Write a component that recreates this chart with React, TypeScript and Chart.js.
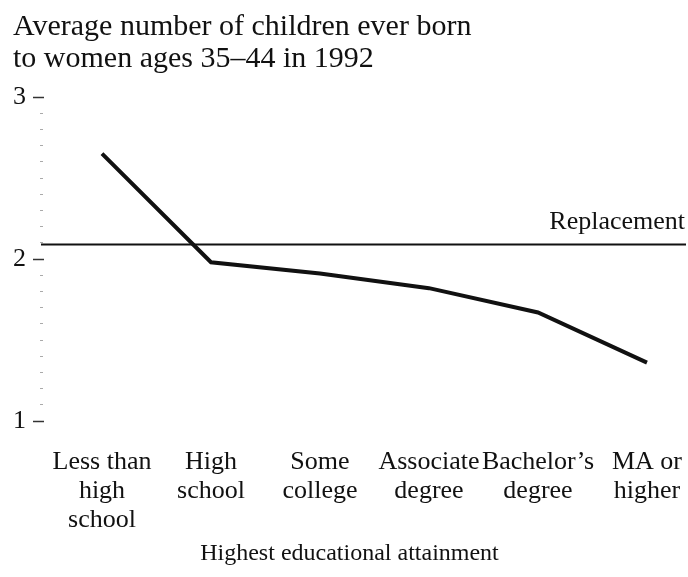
import React, { useEffect, useRef } from 'react';
import { Chart, registerables } from 'chart.js';

Chart.register(...registerables);

const CATEGORIES: string[][] = [
  ['Less than', 'high', 'school'],
  ['High', 'school'],
  ['Some', 'college'],
  ['Associate', 'degree'],
  ['Bachelor’s', 'degree'],
  ['MA or', 'higher'],
];
const CHILDREN_EVER_BORN = [2.65, 1.98, 1.91, 1.82, 1.67, 1.36];
const REPLACEMENT = 2.09;
const REPLACEMENT_LABEL = 'Replacement';
const TITLE_LINES = ['Average number of children ever born', 'to women ages 35–44 in 1992'];
const X_TITLE = 'Highest educational attainment';
const Y_MIN = 1;
const Y_MAX = 3;
const Y_MINOR_STEP = 0.1;

const FONT = "'Liberation Serif', 'Times New Roman', serif";
const INK = '#111';

const isMajor = (v: number) => Math.abs(v - Math.round(v)) < 1e-6;

const replacementPlugin = {
  id: 'replacementLine',
  beforeDatasetsDraw(chart: any) {
    const { ctx, chartArea, scales } = chart;
    const y = scales.y.getPixelForValue(REPLACEMENT);
    ctx.save();
    ctx.strokeStyle = INK;
    ctx.lineWidth = 2;
    ctx.beginPath();
    ctx.moveTo(chartArea.left - 3, y);
    ctx.lineTo(chartArea.right, y);
    ctx.stroke();
    ctx.fillStyle = INK;
    ctx.font = `26px ${FONT}`;
    ctx.textAlign = 'right';
    ctx.textBaseline = 'middle';
    ctx.fillText(REPLACEMENT_LABEL, chartArea.right - 1, y - 22);
    ctx.restore();
  },
};

export default function App() {
  const ref = useRef<HTMLCanvasElement>(null);

  useEffect(() => {
    if (!ref.current) return;
    const chart = new Chart(ref.current, {
      type: 'line',
      data: {
        datasets: [
          {
            data: CHILDREN_EVER_BORN.map((v, i) => ({ x: i, y: v })),
            borderColor: INK,
            borderWidth: 4,
            pointRadius: 0,
            tension: 0,
            fill: false,
          },
        ],
      },
      options: {
        animation: false,
        responsive: false,
        layout: { padding: { left: 13, right: 2, top: 0, bottom: 0 } },
        plugins: {
          legend: { display: false },
          tooltip: { enabled: false },
          title: {
            display: true,
            text: TITLE_LINES,
            align: 'start',
            color: INK,
            font: { family: FONT, size: 30, weight: 'normal', lineHeight: 32 / 30 },
            padding: { top: 11, bottom: 22 },
          },
          subtitle: {
            display: true,
            position: 'bottom',
            text: X_TITLE,
            color: INK,
            font: { family: FONT, size: 24, weight: 'normal', lineHeight: 29 / 24 },
            padding: { top: 4, bottom: 9 },
          },
        },
        scales: {
          x: {
            type: 'linear',
            min: -0.532,
            max: 5.358,
            afterBuildTicks: (s: any) => {
              s.ticks = CATEGORIES.map((_, i) => ({ value: i }));
            },
            afterFit: (s: any) => {
              s.height -= s.options.ticks.padding;
              s.paddingLeft = 0;
              s.paddingRight = 0;
            },
            ticks: {
              autoSkip: false,
              maxRotation: 0,
              padding: 27,
              color: INK,
              font: { family: FONT, size: 26, lineHeight: 29 / 26 },
              callback: (v: any) => CATEGORIES[v] ?? '',
            },
            grid: { display: false, drawTicks: false },
            border: { display: false },
          },
          y: {
            type: 'linear',
            min: Y_MIN,
            max: Y_MAX,
            afterFit: (s: any) => {
              s.width -= s.options.ticks.padding;
            },
            ticks: {
              stepSize: Y_MINOR_STEP,
              autoSkip: false,
              padding: 7,
              color: INK,
              font: { family: FONT, size: 26 },
              callback: (v: any) => (isMajor(Number(v)) ? String(Math.round(Number(v))) : ''),
            },
            grid: {
              drawOnChartArea: false,
              drawTicks: true,
              tickLength: 11,
              tickColor: (c: any) => (isMajor(c.tick.value) ? '#333' : '#aaa'),
              tickWidth: (c: any) => (isMajor(c.tick.value) ? 1.5 : 1),
              tickBorderDash: (c: any) => (isMajor(c.tick.value) ? [] : [0, 7, 3, 1]),
            },
            border: { display: false },
          },
        },
      },
      plugins: [replacementPlugin],
    } as any);
    return () => chart.destroy();
  }, []);

  return (
    <div style={{ position: 'absolute', left: 0, top: 0, width: 688, height: 577, background: '#fff' }}>
      <canvas ref={ref} width={688} height={577} style={{ display: 'block' }} />
    </div>
  );
}
